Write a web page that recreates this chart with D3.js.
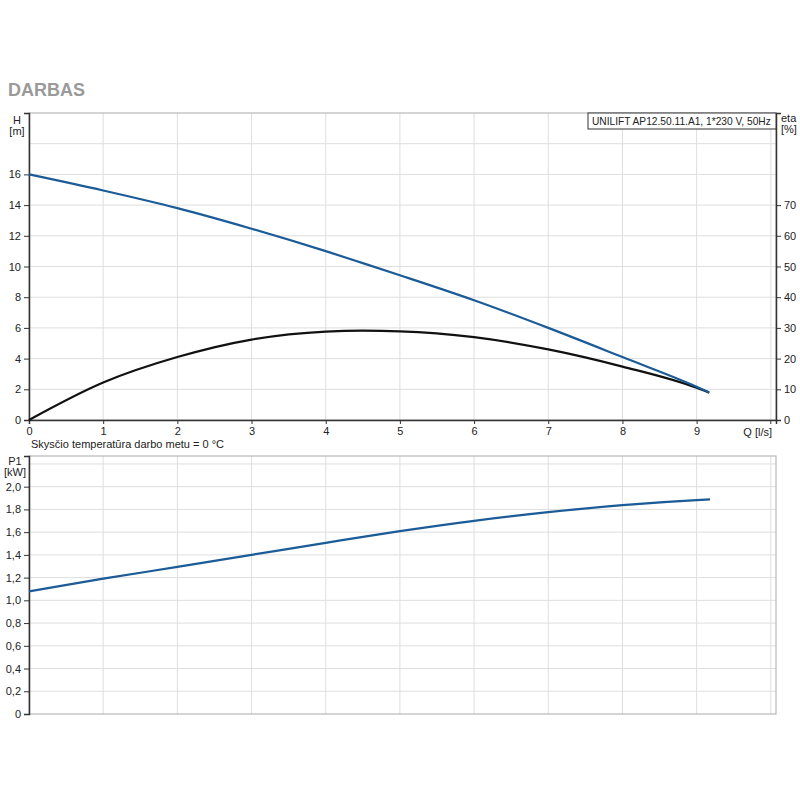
<!DOCTYPE html>
<html>
<head>
<meta charset="utf-8">
<script src="https://cdn.jsdelivr.net/npm/d3@7"></script>
<style>
  body { margin: 0; background: #fff; }
  text { font-family: "Liberation Sans", Arial, sans-serif; }
</style>
</head>
<body>
<svg id="chart" width="800" height="800"></svg>
<script>
  // flow points
  const flowQ = [0, 1, 2, 3, 4, 4.5, 5, 6, 7, 8, 9, 9.17];
  const headH = [16.0, 14.95, 13.8, 12.46, 11.0, 10.22, 9.43, 7.8, 6.0, 4.1, 2.17, 1.80];
  const etaPct = [0, 12.2, 20.5, 26.2, 28.8, 29.1, 28.9, 27.0, 23.0, 17.4, 10.5, 8.9];
  const powerQ = [0, 1, 2, 3, 4, 5, 6, 7, 8, 9, 9.18];
  const powerP1 = [1.079, 1.191, 1.294, 1.40, 1.506, 1.609, 1.70, 1.776, 1.838, 1.882, 1.888];

  const qTicks = [0, 1, 2, 3, 4, 5, 6, 7, 8, 9];
  const hTicks = [0, 2, 4, 6, 8, 10, 12, 14, 16];
  const etaTicks = [0, 10, 20, 30, 40, 50, 60, 70];
  const pTicks = [0, 0.2, 0.4, 0.6, 0.8, 1.0, 1.2, 1.4, 1.6, 1.8, 2.0];

  const svg = d3.select("#chart");
  const left = 29, right = 776;
  const blue = "#1b5b97", dark = "#333", grid = "#dedede", frame = "#aaa";

  const x = d3.scaleLinear().domain([0, 10.07]).range([left, right]);
  const yH = d3.scaleLinear().domain([0, 20]).range([420, 113]);
  const yEta = d3.scaleLinear().domain([0, 100]).range([420, 113]);
  const yP = d3.scaleLinear().domain([0, 2.27]).range([714, 456]);

  svg.append("text").attr("x", 8).attr("y", 96)
    .attr("font-size", 18).attr("font-weight", "bold").attr("fill", "#9a9a9a")
    .text("DARBAS");

  function panel(y, top, bottom, hGrid) {
    const g = svg.append("g");
    g.selectAll(".vg").data(d3.range(1, 11)).join("line")
      .attr("x1", d => x(d)).attr("x2", d => x(d))
      .attr("y1", top).attr("y2", bottom)
      .attr("stroke", grid);
    g.selectAll(".hg").data(hGrid).join("line")
      .attr("x1", left).attr("x2", right)
      .attr("y1", d => y(d)).attr("y2", d => y(d))
      .attr("stroke", grid);
    g.append("rect").attr("x", left).attr("y", top)
      .attr("width", right - left).attr("height", bottom - top)
      .attr("fill", "none").attr("stroke", frame);
    return g;
  }

  // upper panel: head and efficiency
  panel(yH, 113, 420, [2, 4, 6, 8, 10, 12, 14, 16, 18]);

  const fmt = d3.format("d");
  const axL = svg.append("g").attr("transform", `translate(${left},0)`)
    .call(d3.axisLeft(yH).tickValues(hTicks).tickSize(5).tickPadding(3).tickFormat(fmt));
  const axR = svg.append("g").attr("transform", `translate(${right},0)`)
    .call(d3.axisRight(yEta).tickValues(etaTicks).tickSize(5).tickPadding(3).tickFormat(fmt));
  const axB = svg.append("g").attr("transform", "translate(0,420)")
    .call(d3.axisBottom(x).tickValues(qTicks).tickSize(4).tickPadding(3).tickFormat(fmt));
  svg.append("line").attr("x1", x(10)).attr("x2", x(10)).attr("y1", 420).attr("y2", 424)
    .attr("stroke", dark);

  [axL, axR, axB].forEach(a => {
    a.select(".domain").attr("stroke", dark).attr("stroke-width", 1.5);
    a.selectAll(".tick line").attr("stroke", dark);
    a.selectAll(".tick text").attr("font-size", 11).attr("fill", "#222")
      .attr("font-family", "Liberation Sans, Arial, sans-serif");
  });

  const lbl = (tx, ty, s, anchor) => svg.append("text").attr("x", tx).attr("y", ty)
    .attr("font-size", 11).attr("fill", "#222").attr("text-anchor", anchor || "start").text(s);
  lbl(17, 124, "H", "middle");
  lbl(17, 135, "[m]", "middle");
  lbl(781, 122, "eta");
  lbl(781, 133, "[%]");
  lbl(772, 436, "Q [l/s]", "end");
  lbl(31, 448, "Skysčio temperatūra darbo metu = 0 °C");

  svg.append("rect").attr("x", 588).attr("y", 113).attr("width", right - 588).attr("height", 16)
    .attr("fill", "#fff").attr("stroke", dark);
  lbl(592, 125, "UNILIFT AP12.50.11.A1, 1*230 V, 50Hz").attr("font-size", 10.2);

  const hLine = d3.line().x(d => x(d[0])).y(d => yH(d[1])).curve(d3.curveMonotoneX);
  const eLine = d3.line().x(d => x(d[0])).y(d => yEta(d[1])).curve(d3.curveMonotoneX);

  svg.append("path").datum(d3.zip(flowQ, etaPct)).attr("d", eLine)
    .attr("fill", "none").attr("stroke", "#111").attr("stroke-width", 2.2);
  svg.append("path").datum(d3.zip(flowQ, headH)).attr("d", hLine)
    .attr("fill", "none").attr("stroke", blue).attr("stroke-width", 2.2);

  // lower panel: power input
  panel(yP, 456, 714, [0.2, 0.4, 0.6, 0.8, 1.0, 1.2, 1.4, 1.6, 1.8, 2.0, 2.2]);
  const axP = svg.append("g").attr("transform", `translate(${left},0)`)
    .call(d3.axisLeft(yP).tickValues(pTicks).tickSize(5).tickPadding(3)
      .tickFormat(d => d === 0 ? "0" : d3.format(".1f")(d).replace(".", ",")));
  axP.select(".domain").attr("stroke", dark).attr("stroke-width", 1.5);
  axP.selectAll(".tick line").attr("stroke", dark);
  axP.selectAll(".tick text").attr("font-size", 11).attr("fill", "#222")
    .attr("font-family", "Liberation Sans, Arial, sans-serif");
  lbl(15, 465, "P1", "middle");
  lbl(15, 476, "[kW]", "middle");

  const pLine = d3.line().x(d => x(d[0])).y(d => yP(d[1])).curve(d3.curveMonotoneX);
  svg.append("path").datum(d3.zip(powerQ, powerP1)).attr("d", pLine)
    .attr("fill", "none").attr("stroke", blue).attr("stroke-width", 2.2);
</script>
</body>
</html>
